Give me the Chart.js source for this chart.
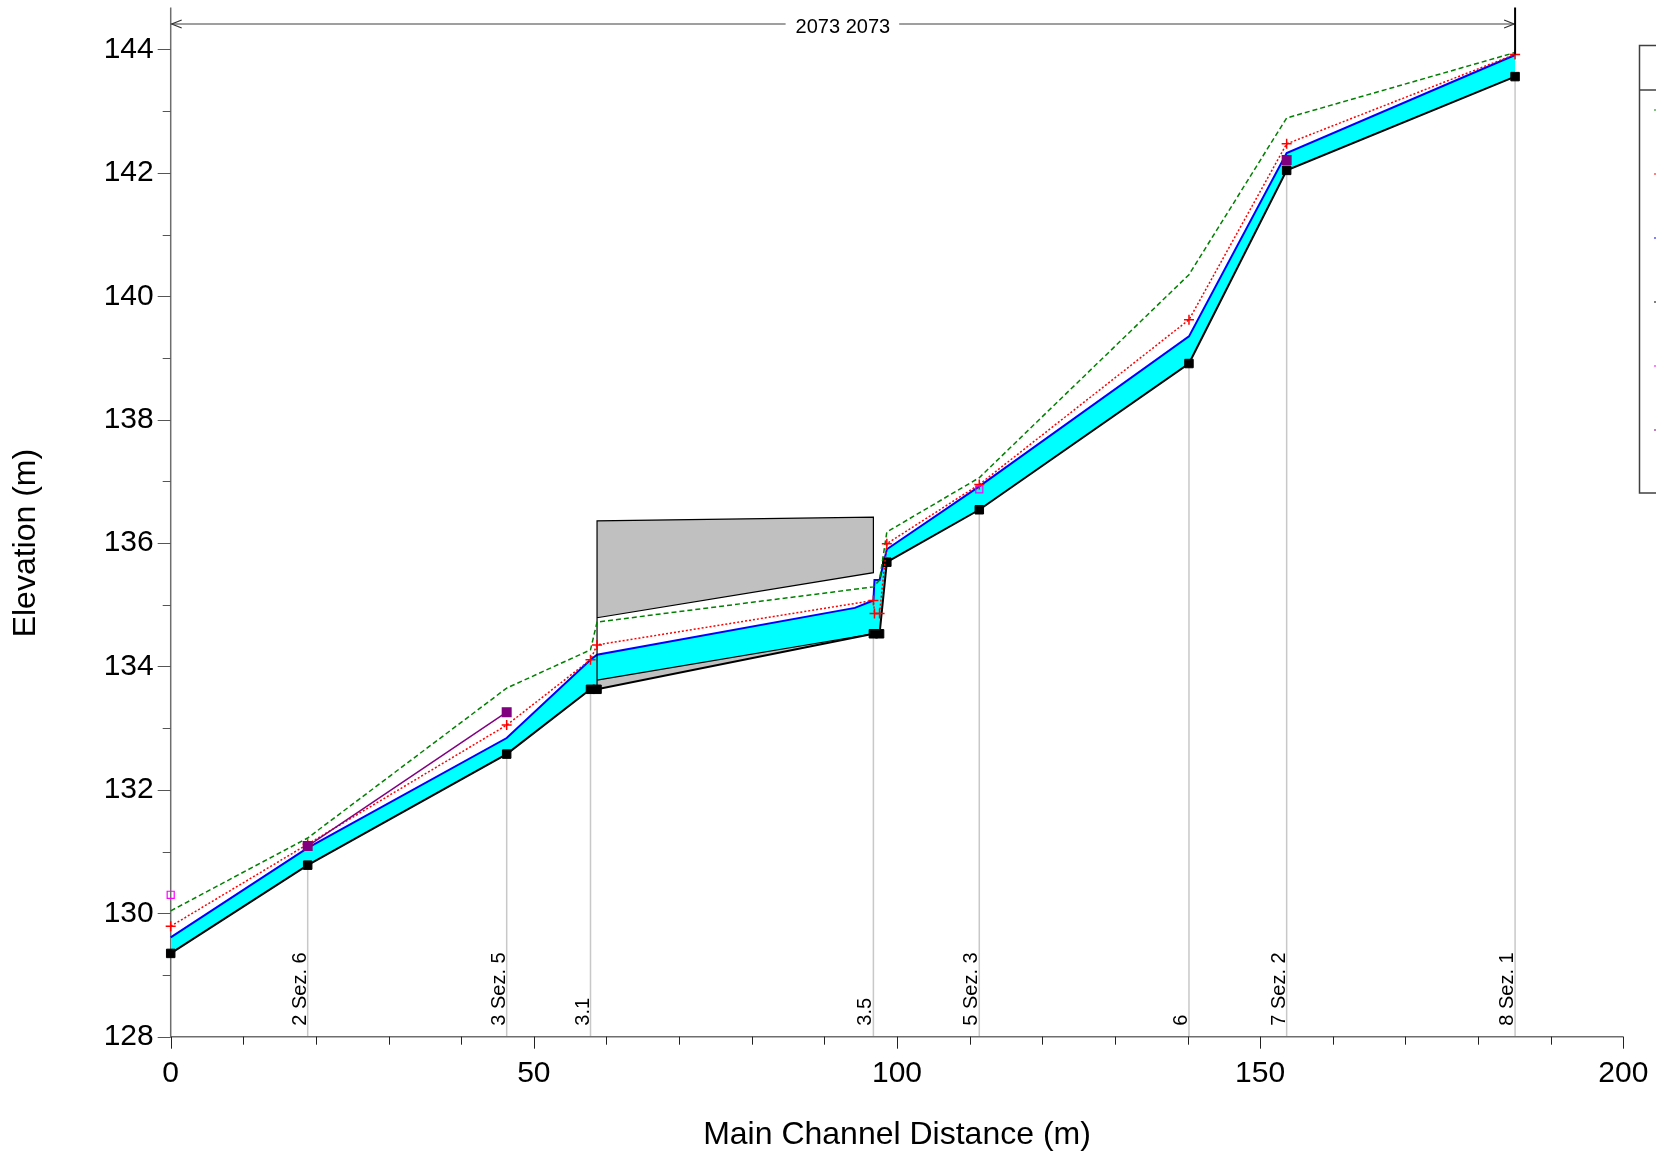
<!DOCTYPE html>
<html>
<head>
<meta charset="utf-8">
<script src="https://cdn.jsdelivr.net/npm/chart.js@4.4.0/dist/chart.umd.min.js"></script>
<style>
  html, body { margin: 0; padding: 0; background: #fff; overflow: hidden; }
  #wrap { width: 1656px; height: 1160px; position: relative; }
</style>
</head>
<body>
<div id="wrap"><canvas id="profile"></canvas></div>
<script>
// ---------------------------------------------
// profile data (main channel distance m / elevation m)
// ---------------------------------------------
const groundX = [0, 18.86, 46.26, 57.8, 58.7, 96.75, 97.6, 98.6, 111.33, 140.2, 153.65, 185.1];
const groundY = [129.35, 130.78, 132.58, 133.63, 133.63, 134.53, 134.53, 135.69, 136.54, 138.91, 142.04, 143.56];

const wsX = [0, 18.86, 46.26, 57.8, 58.7, 94.2, 96.75, 96.9, 97.6, 98.6, 111.33, 140.2, 153.65, 185.1];
const wsY = [129.61, 131.06, 132.84, 134.11, 134.19, 134.95, 135.07, 135.40, 135.40, 135.90, 136.92, 139.35, 142.32, 143.91];

const critX = [0, 18.86, 46.26, 57.8, 58.7, 96.75, 96.9, 97.6, 98.6, 111.33, 140.2, 153.65, 185.1];
const critY = [129.79, 131.12, 133.05, 134.11, 134.35, 135.07, 134.86, 134.86, 135.99, 136.95, 139.62, 142.47, 143.92];

const egX = [0, 18.86, 46.26, 57.8, 58.7, 96.75, 97.6, 98.6, 111.33, 140.2, 153.65, 185.1];
const egY = [130.04, 131.22, 133.65, 134.27, 134.72, 135.29, 135.40, 136.18, 137.06, 140.35, 142.89, 143.95];

const leveeX = [18.86, 46.26, 100, 153.65];
const leveeY = [131.09, 133.26, null, 142.21];

const ineffX = [0, 111.33];
const ineffY = [130.30, 136.87];

// bridge deck outline and bed under the bridge
const deckX = [58.7, 58.7, 96.75, 96.75, 58.7];
const deckY = [133.63, 136.36, 136.42, 135.52, 134.79];
const bridgeBedX = [58.7, 96.75];
const bridgeBedY = [133.78, 134.53];

// river sections shown with vertical lines
const sectionNames    = ['2 Sez. 6', '3 Sez. 5', '3.1', '3.5', '5 Sez. 3', '6', '7 Sez. 2', '8 Sez. 1'];
const sectionStations = [18.86, 46.26, 57.8, 96.75, 111.33, 140.2, 153.65, 185.1];

const xTicks = [0, 50, 100, 150, 200];
const yTicks = [128, 130, 132, 134, 136, 138, 140, 142, 144];
const reachLengthLabel = '2073 2073';

const FONT = "'Liberation Sans', Arial, sans-serif";
const pts = (xs, ys) => xs.map((x, i) => ({ x, y: ys[i] }));
const bedAt = s => groundY[groundX.indexOf(s)];

// ---------------------------------------------
// extra drawing: axes, ticks, sections, titles
// ---------------------------------------------
const profileDecor = {
  id: 'profileDecor',
  beforeDatasetsDraw(chart) {
    const { ctx, chartArea: ca, scales: { x, y } } = chart;
    ctx.save();

    // section lines
    ctx.strokeStyle = '#c8c8c8';
    ctx.lineWidth = 1.5;
    sectionStations.forEach(s => {
      const px = x.getPixelForValue(s);
      ctx.beginPath();
      ctx.moveTo(px, y.getPixelForValue(bedAt(s)));
      ctx.lineTo(px, ca.bottom);
      ctx.stroke();
    });

    // section names
    ctx.fillStyle = '#000';
    ctx.font = '20px ' + FONT;
    ctx.textAlign = 'left';
    ctx.textBaseline = 'alphabetic';
    sectionStations.forEach((s, i) => {
      const px = x.getPixelForValue(s);
      ctx.save();
      ctx.translate(px - 2, ca.bottom - 11);
      ctx.rotate(-Math.PI / 2);
      ctx.fillText(sectionNames[i], 0, 0);
      ctx.restore();
    });

    // axis lines
    ctx.strokeStyle = '#6e6e6e';
    ctx.lineWidth = 1.5;
    ctx.beginPath();
    ctx.moveTo(ca.left, ca.top);
    ctx.lineTo(ca.left, ca.bottom);
    ctx.lineTo(ca.right, ca.bottom);
    ctx.stroke();

    // tick marks
    ctx.strokeStyle = '#222';
    ctx.lineWidth = 1;
    for (let v = 0; v <= 200; v += 10) {
      const px = Math.round(x.getPixelForValue(v)) + 0.5;
      const len = xTicks.includes(v) ? 12 : 8;
      ctx.beginPath(); ctx.moveTo(px, ca.bottom); ctx.lineTo(px, ca.bottom + len); ctx.stroke();
    }
    ctx.strokeStyle = '#555';
    for (let v = 128; v <= 144; v++) {
      const py = Math.round(y.getPixelForValue(v)) + 0.5;
      const len = yTicks.includes(v) ? 13 : 8;
      ctx.beginPath(); ctx.moveTo(ca.left - len, py); ctx.lineTo(ca.left, py); ctx.stroke();
    }
    ctx.restore();
  },
  afterDraw(chart) {
    const { ctx, chartArea: ca, scales: { x, y } } = chart;
    ctx.save();

    // axis titles
    ctx.fillStyle = '#000';
    ctx.font = '32px ' + FONT;
    ctx.textAlign = 'center';
    ctx.textBaseline = 'middle';
    ctx.fillText('Main Channel Distance (m)', (ca.left + ca.right) / 2, 1135);
    ctx.save();
    ctx.translate(26, (y.getPixelForValue(128) + y.getPixelForValue(144)) / 2);
    ctx.rotate(-Math.PI / 2);
    ctx.fillText('Elevation (m)', 0, 0);
    ctx.restore();

    // reach length dimension at the top
    const yA = 24;
    const xL = ca.left;
    const xR = x.getPixelForValue(groundX[groundX.length - 1]);
    const cx = (xL + xR) / 2;
    ctx.font = '20px ' + FONT;
    const w = ctx.measureText(reachLengthLabel).width;
    ctx.strokeStyle = '#808080';
    ctx.lineWidth = 1.5;
    ctx.beginPath();
    ctx.moveTo(xL, yA); ctx.lineTo(cx - w / 2 - 10, yA);
    ctx.moveTo(cx + w / 2 + 9, yA); ctx.lineTo(xR, yA);
    ctx.stroke();
    ctx.strokeStyle = '#333';
    ctx.lineWidth = 1.2;
    ctx.beginPath();
    ctx.moveTo(xL + 11, yA - 4); ctx.lineTo(xL + 1, yA); ctx.lineTo(xL + 11, yA + 4);
    ctx.moveTo(xR - 11, yA - 4); ctx.lineTo(xR - 1, yA); ctx.lineTo(xR - 11, yA + 4);
    ctx.stroke();
    ctx.strokeStyle = '#000';
    ctx.lineWidth = 2;
    ctx.beginPath();
    ctx.moveTo(xR, ca.top); ctx.lineTo(xR, y.getPixelForValue(critY[critY.length - 1]));
    ctx.stroke();
    ctx.fillStyle = '#000';
    ctx.textBaseline = 'middle';
    ctx.fillText(reachLengthLabel, cx, yA + 3);

    // legend box (cut off at the right edge)
    ctx.strokeStyle = '#404040';
    ctx.lineWidth = 1.5;
    ctx.strokeRect(1639.5, 45.5, 100, 447.5);
    ctx.beginPath(); ctx.moveTo(1639.5, 90); ctx.lineTo(1660, 90); ctx.stroke();
    ['#80c080', '#ff8080', '#8080ff', '#808080', '#ff80ff', '#c080c0'].forEach((c, i) => {
      ctx.fillStyle = c;
      ctx.fillRect(1654, 109 + i * 64, 2, 2);
    });
    ctx.restore();
  }
};

// ---------------------------------------------
// chart
// ---------------------------------------------
new Chart(document.getElementById('profile'), {
  type: 'line',
  data: {
    datasets: [
      { // 0 water surface
        data: pts(wsX, wsY), borderColor: '#0000ff', borderWidth: 2,
        backgroundColor: '#00ffff', fill: 3, pointRadius: 0, order: 6
      },
      { // 1 bed under bridge
        data: pts(bridgeBedX, bridgeBedY), borderColor: '#000', borderWidth: 1.2,
        backgroundColor: '#c0c0c0', fill: 3, pointRadius: 0, order: 5
      },
      { // 2 bridge deck
        data: pts(deckX, deckY), borderColor: '#000', borderWidth: 1.2,
        backgroundColor: '#c0c0c0', fill: 'shape', pointRadius: 0, order: 4
      },
      { // 3 ground
        data: pts(groundX, groundY), borderColor: '#000', borderWidth: 2,
        pointStyle: 'rect', pointRadius: 6, pointBackgroundColor: '#000',
        pointBorderColor: '#000', pointBorderWidth: 1, fill: false, order: 3
      },
      { // 4 energy grade
        data: pts(egX, egY), borderColor: '#008000', borderWidth: 1.5,
        borderDash: [5, 3], pointRadius: 0, fill: false, order: 2
      },
      { // 5 critical depth
        data: pts(critX, critY), borderColor: '#ff0000', borderWidth: 1.5,
        borderDash: [2, 2], pointStyle: 'cross', pointRadius: 5,
        pointBorderColor: '#ff0000', pointBorderWidth: 1.5, fill: false, order: 1
      },
      { // 6 left levee
        data: pts(leveeX, leveeY), borderColor: '#800080', borderWidth: 1.5,
        pointStyle: 'rect', pointRadius: 6, pointBackgroundColor: '#800080',
        pointBorderColor: '#800080', fill: false, spanGaps: false, order: 0
      },
      { // 7 ineffective flow
        data: pts(ineffX, ineffY), showLine: false,
        pointStyle: 'rect', pointRadius: 5, pointBackgroundColor: 'rgba(255,255,255,0)',
        pointBorderColor: '#ff00ff', pointBorderWidth: 1.2, fill: false, order: 0
      }
    ]
  },
  options: {
    responsive: true,
    maintainAspectRatio: false,
    animation: false,
    clip: false,
    layout: { padding: { left: 0, top: 3, right: 32.7, bottom: 0 } },
    elements: { line: { tension: 0 } },
    plugins: { legend: { display: false }, tooltip: { enabled: false } },
    scales: {
      x: {
        type: 'linear', min: 0, max: 200,
        afterBuildTicks: s => { s.ticks = xTicks.map(v => ({ value: v })); },
        afterFit: s => {
          s.height = 123.3;
          s.paddingLeft = 0; s.paddingRight = 0;
        },
        grid: { display: false, drawTicks: false },
        border: { display: false },
        ticks: { color: '#000', padding: 19, maxRotation: 0, font: { family: FONT, size: 30 } }
      },
      y: {
        type: 'linear', min: 128, max: 144.68,
        afterBuildTicks: s => { s.ticks = yTicks.map(v => ({ value: v })); },
        afterFit: s => {
          s.width = 170.7;
          s.paddingTop = 0; s.paddingBottom = 0;
        },
        grid: { display: false, drawTicks: false },
        border: { display: false },
        ticks: { color: '#000', padding: 17, font: { family: FONT, size: 30 } }
      }
    }
  },
  plugins: [profileDecor]
});
</script>
</body>
</html>
